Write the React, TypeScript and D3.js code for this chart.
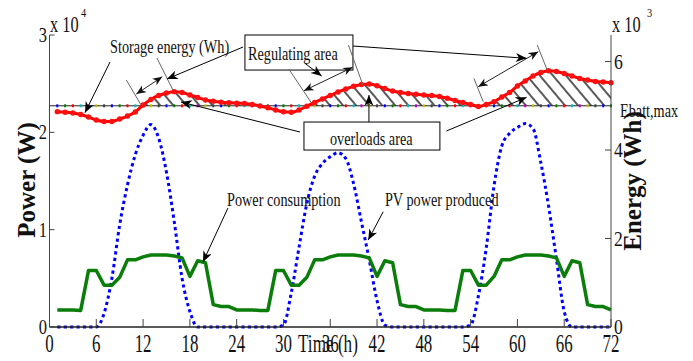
import React from 'react';
import * as d3 from 'd3';

// ---------- data ----------
const hours: number[] = d3.range(1, 73);

// Power consumption (W)
const consumptionW = [
  1750, 1750, 1750, 1700, 5800, 5800, 4300, 4300, 5100, 6900, 6900, 7200,
  7400, 7400, 7400, 7300, 7100, 5200, 6800, 6600, 2300, 2100, 2100, 1750,
  1750, 1750, 1700, 1700, 5800, 5800, 4300, 4300, 5100, 6900, 6900, 7200,
  7400, 7400, 7400, 7300, 7100, 5200, 6800, 6600, 2300, 2100, 2100, 1750,
  1750, 1750, 1700, 1700, 5800, 5800, 4300, 4300, 5200, 6900, 6900, 7200,
  7400, 7400, 7400, 7300, 7100, 5200, 6800, 6600, 2300, 2100, 2100, 1750,
];

// PV power produced (W)
const pvW = [
  0, 0, 0, 0, 0, 0, 1400, 5000, 10500, 14600, 17700, 19700,
  20800, 19400, 15900, 10800, 5000, 1600, 0, 0, 0, 0, 0, 0,
  0, 0, 0, 0, 0, 200, 3500, 8200, 12700, 15500, 16800, 17500,
  17900, 17300, 14700, 10800, 6900, 2700, 200, 0, 0, 0, 0, 0,
  0, 0, 0, 0, 0, 200, 3200, 8100, 14500, 18600, 19900, 20500,
  20900, 20400, 16900, 12400, 7000, 1600, 0, 0, 0, 0, 0, 0,
];

// Storage energy (Wh)
const storageWh = [
  4867, 4855, 4837, 4803, 4747, 4679, 4645, 4645, 4702, 4769, 4860, 5018,
  5143, 5233, 5289, 5319, 5301, 5244, 5188, 5131, 5102, 5081, 5068, 5057,
  5052, 5029, 4995, 4955, 4905, 4864, 4853, 4905, 4990, 5075, 5154, 5233,
  5312, 5380, 5441, 5481, 5493, 5452, 5391, 5335, 5301, 5278, 5260, 5244,
  5233, 5210, 5170, 5120, 5075, 5029, 4985, 5029, 5093, 5199, 5301, 5448,
  5561, 5674, 5753, 5793, 5775, 5730, 5674, 5617, 5583, 5549, 5538, 5522,
];

const EBATT_MAX = 5000;
const xTicks = [0, 6, 12, 18, 24, 30, 36, 42, 48, 54, 60, 66, 72];
const powerTicks = [0, 10000, 20000, 30000];
const powerTickLabels = ['0', '1', '2', '3'];
const energyTicks = [0, 2000, 4000, 6000];
const energyTickLabels = ['0', '2', '4', '6'];
const dotColors = ['#0000ff', '#008000', '#ff0000', '#00bfbf', '#bf00bf', '#bfbf00', '#404040'];

const FONT = "'Liberation Serif', 'Times New Roman', serif";

type TP = { x: number; y: number; s?: number; sx?: number; anchor?: string; weight?: string; rotate?: number; children: React.ReactNode };
const T = ({ x, y, s = 19, sx = 0.75, anchor = 'start', weight = 'normal', rotate = 0, children }: TP) => (
  <text
    transform={`translate(${x},${y}) rotate(${rotate}) scale(${sx},1)`}
    fontSize={s}
    textAnchor={anchor as any}
    fontWeight={weight}
    fontFamily={FONT}
    fill="#111"
  >
    {children}
  </text>
);

export default function App() {
  const W = 693, H = 361;
  const x = d3.scaleLinear().domain([0, 72]).range([49.5, 611]);
  const yP = d3.scaleLinear().domain([0, 30000]).range([327, 35]);
  const yE = d3.scaleLinear().domain([0, 6600]).range([327, 35]);

  const pvLine = d3.line<number>().x((_, i) => x(hours[i])).y((d) => yP(d)).curve(d3.curveMonotoneX);
  const consLine = d3.line<number>().x((_, i) => x(hours[i])).y((d) => yP(d));
  const energyLine = d3.line<number>().x((_, i) => x(hours[i])).y((d) => yE(d)).curve(d3.curveMonotoneX);
  const hatchArea = d3
    .area<number>()
    .x((_, i) => x(hours[i]))
    .y0(yE(EBATT_MAX))
    .y1((d) => yE(Math.max(d, EBATT_MAX)))
    .curve(d3.curveMonotoneX);

  // annotation helpers (data coords: hours, Wh / W)
  const E = (t: number, e: number) => [x(t), yE(e)];
  const P = (t: number, w: number) => [x(t), yP(w)];
  const seg = (a: number[], b: number[]) => ({ x1: a[0], y1: a[1], x2: b[0], y2: b[1] });

  const yTop = yE(6600);
  const yBase = yE(0);
  const xL = x(0), xR = x(72);
  const yEb = yE(EBATT_MAX);

  const regBox = [E(25.06, 6600), E(38.91, 5808)];
  const ovBox = [E(32.63, 4633), E(50.06, 4000)];

  return (
    <svg width={W} height={H} style={{ position: 'absolute', left: 0, top: 0, background: '#fff' }}>
      <defs>
        <pattern id="hatch" patternUnits="userSpaceOnUse" width="10" height="10" patternTransform="rotate(-40)">
          <line x1="5" y1="-1" x2="5" y2="11" stroke="#000" strokeWidth="1.3" />
        </pattern>
        <marker id="arr" viewBox="0 0 12 10" refX="12" refY="5" markerWidth="12" markerHeight="9" markerUnits="userSpaceOnUse" orient="auto-start-reverse">
          <path d="M0,0 L12,5 L0,10 L3.5,5 Z" fill="#000" />
        </marker>
        <marker id="arrs" viewBox="0 0 12 10" refX="12" refY="5" markerWidth="10" markerHeight="8" markerUnits="userSpaceOnUse" orient="auto-start-reverse">
          <path d="M0,0 L12,5 L0,10 L3.5,5 Z" fill="#111" />
        </marker>
      </defs>
      <rect x={0} y={0} width={W} height={H} fill="#fff" />

      {/* hatch */}
      <path d={hatchArea(storageWh) || ''} fill="url(#hatch)" stroke="none" />

      {/* Ebatt,max line */}
      <line x1={xL} x2={xR} y1={yEb} y2={yEb} stroke="#222" strokeWidth={1} />
      {hours.map((h, i) => (
        <rect key={h} x={x(h) - 1} y={yEb - 1.5} width={2} height={3} fill={dotColors[i % dotColors.length]} />
      ))}

      {/* PV */}
      <path d={pvLine(pvW) || ''} fill="none" stroke="#0000ff" strokeWidth={3} strokeDasharray="3.2 3.2" />
      {/* consumption */}
      <path d={consLine(consumptionW) || ''} fill="none" stroke="#0b7d0b" strokeWidth={3.5} strokeLinejoin="round" />
      {/* storage */}
      <path d={energyLine(storageWh) || ''} fill="none" stroke="#ff0000" strokeWidth={3} />
      {storageWh.map((d, i) => (
        <circle key={i} cx={x(hours[i])} cy={yE(d)} r={2.7} fill="#ff1010" />
      ))}

      {/* axes */}
      <line x1={xL} x2={xL} y1={yTop} y2={yBase} stroke="#444" />
      <line x1={xR} x2={xR} y1={yTop} y2={yBase} stroke="#444" />
      <line x1={xL} x2={xR} y1={yBase} y2={yBase} stroke="#222" strokeWidth={1.5} />
      {xTicks.map((t) => (
        <g key={t}>
          <line x1={x(t)} x2={x(t)} y1={yBase} y2={yBase - 8} stroke="#444" />
          <T x={x(t)} y={352} s={26} sx={0.65} anchor="middle">{t}</T>
        </g>
      ))}
      {powerTicks.map((v, i) => (
        <g key={v}>
          <line x1={xL} x2={xL + 5} y1={yP(v)} y2={yP(v)} stroke="#444" />
          <T x={47} y={yP(v) + 7} s={22} sx={0.75} anchor="end">{powerTickLabels[i]}</T>
        </g>
      ))}
      {energyTicks.map((v, i) => (
        <g key={v}>
          <line x1={xR - 6} x2={xR} y1={yE(v)} y2={yE(v)} stroke="#444" />
          <T x={xR + 3} y={yE(v) + 7} s={22} sx={0.8}>{energyTickLabels[i]}</T>
        </g>
      ))}
      <T x={50} y={32} s={24} sx={0.68}>x 10</T>
      <T x={81} y={17} s={13} sx={0.8}>4</T>
      <T x={612} y={32} s={24} sx={0.68}>x 10</T>
      <T x={647} y={17} s={13} sx={0.8}>3</T>

      <T x={35} y={180} s={25} sx={1} anchor="middle" weight="bold" rotate={-90}>Power (W)</T>
      <T x={641} y={181} s={25} sx={1} anchor="middle" weight="bold" rotate={-90}>Energy (Wh)</T>
      <T x={298} y={352} s={26} sx={0.66}>Time (h)</T>
      <T x={620} y={117} s={19} sx={0.75}>Ebatt,max</T>

      {/* boxes */}
      <rect x={regBox[0][0]} y={regBox[0][1]} width={regBox[1][0] - regBox[0][0]} height={regBox[1][1] - regBox[0][1]} fill="#fff" stroke="#000" />
      <T x={E(25.45, 0)[0]} y={E(0, 6034)[1]}>Regulating area</T>
      <rect x={ovBox[0][0]} y={ovBox[0][1]} width={ovBox[1][0] - ovBox[0][0]} height={ovBox[1][1] - ovBox[0][1]} fill="#fff" stroke="#000" />
      <T x={E(35.96, 0)[0]} y={E(0, 4113)[1]}>overloads area</T>

      {/* extension lines */}
      <g stroke="#666" strokeWidth={1}>
        <line {...seg(E(9.85, 5582), E(11.69, 5033))} />
        <line {...seg(E(13.78, 6079), E(15.83, 5356))} />
        <line {...seg(E(30.71, 5824), E(33.62, 5056))} />
        <line {...seg(E(38.33, 6373), E(40.19, 5469))} />
        <line {...seg(E(54.42, 5621), E(55.62, 5092))} />
        <line {...seg(E(62.54, 6373), E(63.82, 5808))} />
      </g>
      {/* double arrows */}
      <g stroke="#222" strokeWidth={1} markerStart="url(#arrs)" markerEnd="url(#arrs)">
        <line {...seg(E(11.13, 5266), E(14.46, 5657))} />
        <line {...seg(E(32.63, 5340), E(38.87, 5869))} />
        <line {...seg(E(54.97, 5431), E(62.67, 6222))} />
      </g>
      {/* pointer arrows */}
      <g stroke="#000" strokeWidth={1} markerEnd="url(#arr)">
        <line {...seg(E(7.76, 5989), E(4.55, 4843))} />
        <line {...seg(E(24.81, 6328), E(15.06, 5605))} />
        <line {...seg(E(32.76, 5960), E(34.9, 5673))} />
        <line {...seg(E(38.91, 6351), E(61.18, 6073))} />
        <line {...seg(E(32.12, 4407), E(16.86, 5085))} />
        <line {...seg(E(40.96, 4633), E(40.96, 5243))} />
        <line {...seg(E(50.9, 4430), E(61.18, 5191))} />
        <line {...seg(P(22.88, 12222), P(19.68, 6676))} />
        <line {...seg(P(42.79, 11841), P(40.87, 8935))} />
      </g>

      <T x={E(7.76, 0)[0]} y={E(0, 6192)[1]}>Storage energy (Wh)</T>
      <T x={P(22.76, 0)[0]} y={P(0, 12427)[1]}>Power consumption</T>
      <T x={P(43.01, 0)[0]} y={P(0, 12427)[1]}>PV power produced</T>
    </svg>
  );
}
